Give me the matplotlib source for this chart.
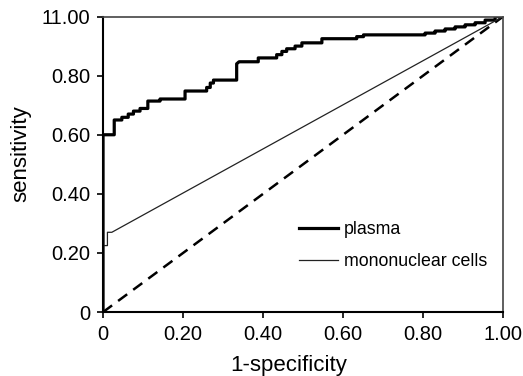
import matplotlib
matplotlib.use('Agg')
import matplotlib.pyplot as plt

plt.rcParams['font.family'] = ['Liberation Sans', 'DejaVu Sans']

# ROC vertices (1-specificity, sensitivity)
plasma_fpr = [0, 0, 0.028, 0.028, 0.047, 0.047, 0.063, 0.063, 0.076, 0.076,
              0.0925, 0.0925, 0.112, 0.112, 0.1425, 0.1425, 0.205, 0.205,
              0.259, 0.259, 0.268, 0.268, 0.276, 0.276, 0.334, 0.334, 0.34,
              0.388, 0.388, 0.434, 0.434, 0.447, 0.447, 0.459, 0.459, 0.48,
              0.48, 0.497, 0.497, 0.547, 0.547, 0.634, 0.634, 0.651, 0.651,
              0.805, 0.805, 0.83, 0.83, 0.855, 0.855, 0.88, 0.88, 0.905,
              0.905, 0.93, 0.93, 0.955, 0.955, 0.98, 0.98, 1.0]
plasma_tpr = [0, 0.60, 0.60, 0.65, 0.65, 0.659, 0.659, 0.67, 0.67, 0.68,
              0.68, 0.689, 0.689, 0.714, 0.714, 0.721, 0.721, 0.748,
              0.748, 0.76, 0.76, 0.775, 0.775, 0.785, 0.785, 0.84, 0.847,
              0.847, 0.86, 0.86, 0.871, 0.871, 0.882, 0.882, 0.891, 0.891,
              0.90, 0.90, 0.911, 0.911, 0.925, 0.925, 0.932, 0.932, 0.938,
              0.938, 0.944, 0.944, 0.951, 0.951, 0.958, 0.958, 0.965, 0.965,
              0.972, 0.972, 0.979, 0.979, 0.988, 0.988, 1.0, 1.0]

mono_fpr = [0, 0, 0.011, 0.011, 0.022, 1.0]
mono_tpr = [0, 0.225, 0.225, 0.27, 0.27, 1.0]

ref_line = [0, 1]

x_ticks = [0, 0.2, 0.4, 0.6, 0.8, 1.0]
x_labels = ['0', '0.20', '0.40', '0.60', '0.80', '1.00']
y_ticks = [0, 0.2, 0.4, 0.6, 0.8, 1.0]
y_labels = ['0', '0.20', '0.40', '0.60', '0.80', '11.00']

fig = plt.figure(figsize=(5.23, 3.76), dpi=100)
ax = fig.add_axes([0.197, 0.170, 0.765, 0.786])

ax.plot(ref_line, ref_line, color='black', lw=1.8, dashes=(4.5, 3))
ax.plot(plasma_fpr, plasma_tpr, color='black', lw=2.3, label='plasma')
ax.plot(mono_fpr, mono_tpr, color='#222222', lw=0.9, label='mononuclear cells')

ax.set_xlim(0, 1)
ax.set_ylim(0, 1)
ax.set_xticks(x_ticks)
ax.set_xticklabels(x_labels)
ax.set_yticks(y_ticks)
ax.set_yticklabels(y_labels)
ax.tick_params(direction='out', length=4, width=1.2, labelsize=14.5, pad=5)

for side in ['left', 'bottom']:
    ax.spines[side].set_linewidth(1.5)
for side in ['top', 'right']:
    ax.spines[side].set_linewidth(1.2)
    ax.spines[side].set_color('#444444')

ax.set_ylabel('sensitivity', fontsize=16)
ax.yaxis.set_label_coords(-0.18, 0.535)
ax.set_xlabel('1-specificity', fontsize=16, va='top')
ax.xaxis.set_label_coords(0.465, -0.145)

ax.legend(loc='center left', bbox_to_anchor=(0.49, 0.225), frameon=False,
          fontsize=12.8, handlelength=2.2, handletextpad=0.3,
          labelspacing=0.85, borderpad=0, borderaxespad=0)

fig.savefig('out.png', dpi=100)
